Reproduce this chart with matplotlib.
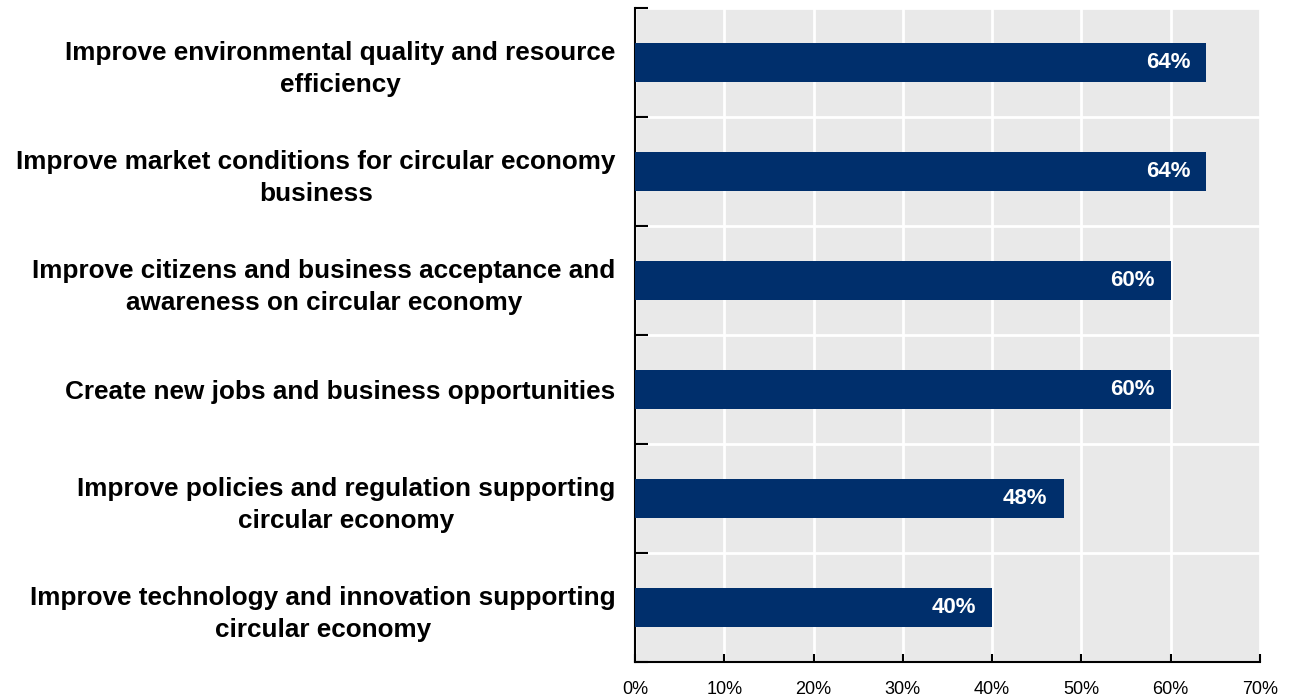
import matplotlib.pyplot as plt
from matplotlib.ticker import MultipleLocator, PercentFormatter

categories = [
    "Improve environmental quality and resource\nefficiency",
    "Improve market conditions for circular economy\nbusiness",
    "Improve citizens and business acceptance and\nawareness on circular economy",
    "Create new jobs and business opportunities",
    "Improve policies and regulation supporting\ncircular economy",
    "Improve technology and innovation supporting\ncircular economy",
]
shares = [64, 64, 60, 60, 48, 40]

NAVY = "#002F6C"
BG = "#E9E9E9"
FONT = ["Liberation Sans Narrow", "Liberation Sans", "DejaVu Sans"]

plt.rcParams["font.family"] = FONT

fig = plt.figure(figsize=(12.93, 6.98), dpi=100)
ax = fig.add_axes([635 / 1293, 1 - 662 / 698, 625 / 1293, 654 / 698])
ax.set_facecolor(BG)

pos = list(range(len(categories)))
ax.barh(pos, shares, height=0.35, color=NAVY, zorder=3)

for y, v in zip(pos, shares):
    ax.text(v - 1.8, y, f"{v}%", ha="right", va="center", color="white",
            fontsize=16, fontweight="bold", zorder=4)

ax.set_xlim(0, 70)
ax.set_ylim(len(categories) - 0.5, -0.5)

# category labels sit on minor ticks, boundary ticks on major
ax.set_yticks([p - 0.5 for p in pos] + [len(pos) - 0.5])
ax.set_yticklabels([])
ax.set_yticks(pos, minor=True)
ax.set_yticklabels(categories, minor=True, fontsize=18.8, fontweight="bold",
                   multialignment="center", linespacing=1.4)
ax.tick_params(axis="y", which="minor", length=0, pad=14)
ax.tick_params(axis="y", which="major", direction="in", length=9, width=1.5,
               color="black")

ax.xaxis.set_major_locator(MultipleLocator(10))
ax.xaxis.set_major_formatter(PercentFormatter(decimals=0))
ax.tick_params(axis="x", direction="in", length=6, width=1.5, labelsize=13,
               pad=14)

ax.grid(True, which="major", color="white", linewidth=2, zorder=1)
ax.set_axisbelow(True)

for side in ("top", "right"):
    ax.spines[side].set_visible(False)
for side in ("left", "bottom"):
    ax.spines[side].set_linewidth(1.5)
    ax.spines[side].set_color("black")

fig.savefig("out.png", dpi=100)
